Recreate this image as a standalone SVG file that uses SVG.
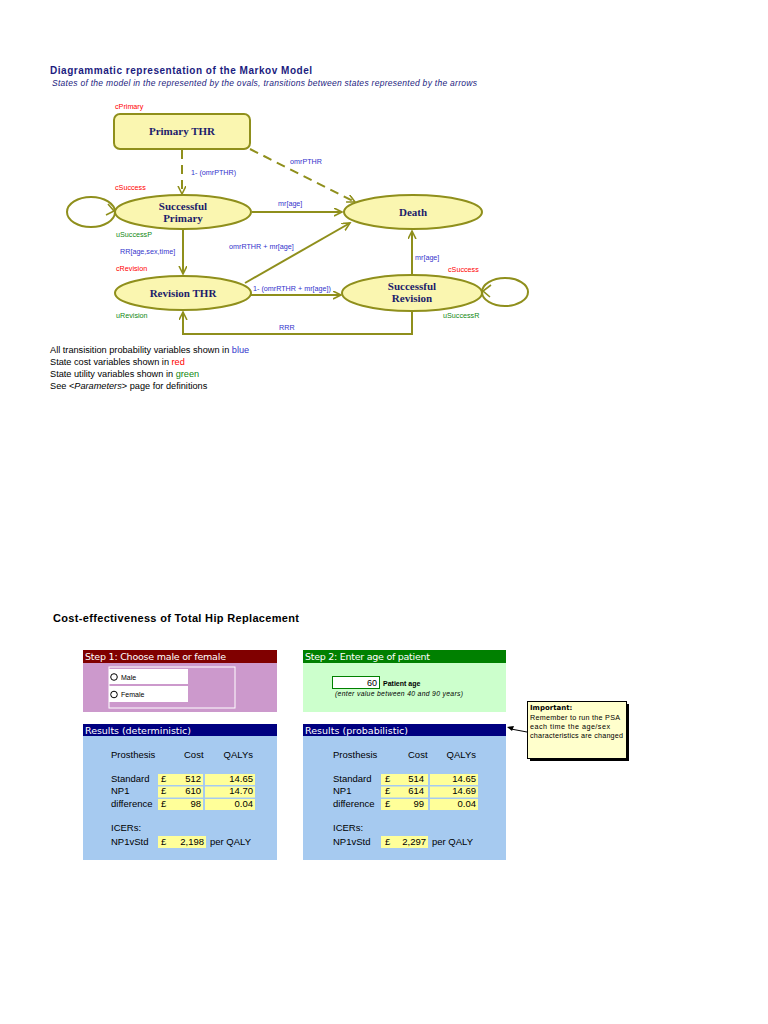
<svg xmlns="http://www.w3.org/2000/svg" width="768" height="1024" viewBox="0 0 768 1024">
<style>
.bg{fill:#ffffff}
.oval{fill:#FAF6B0;stroke:#8F8F1C;stroke-width:2}
.ln{fill:none;stroke:#8F8F1C;stroke-width:2}
.dash{stroke-dasharray:9,6}
.st{font-family:"Liberation Serif",serif;font-weight:bold;font-size:11px;fill:#1C1C6B;text-anchor:middle}
.bl{font-family:"Liberation Sans",Arial,sans-serif;font-size:7.2px;fill:#3333CC}
.rd{font-family:"Liberation Sans",Arial,sans-serif;font-size:7.2px;fill:#FF0000}
.gr{font-family:"Liberation Sans",Arial,sans-serif;font-size:7.2px;fill:#118811}
.lg{font-family:"Liberation Sans",Arial,sans-serif;font-size:9.2px;fill:#000}
.t{font-family:"Liberation Sans",Arial,sans-serif;font-size:9.5px;fill:#000}
.hd{font-family:"DejaVu Sans","Liberation Sans",sans-serif;font-size:9.5px;fill:#fff}
.cell{fill:#FFFF99}
.r{text-anchor:end}
</style>
<defs>
<marker id="ah" markerWidth="10" markerHeight="10" refX="8" refY="4" orient="auto" markerUnits="userSpaceOnUse">
<path d="M0,0 L8,4 L0,8" fill="none" stroke="#8F8F1C" stroke-width="1.6"/>
</marker>
</defs>
<rect class="bg" x="0" y="0" width="768" height="1024"/>

<g id="titles">
<text x="50" y="74" font-family="Liberation Sans,Arial,sans-serif" font-weight="bold" font-size="10" fill="#1C1C80" textLength="262">Diagrammatic representation of the Markov Model</text>
<text x="52" y="85.5" font-family="Liberation Sans,Arial,sans-serif" font-style="italic" font-size="8.5" fill="#1C1C80" textLength="425">States of the model in the represented by the ovals, transitions between states represented by the arrows</text>
</g>

<g id="connectors">
<line class="ln dash" x1="182" y1="150" x2="182" y2="194" marker-end="url(#ah)"/>
<line class="ln dash" x1="250" y1="149" x2="355" y2="202" marker-end="url(#ah)"/>
<line class="ln" x1="252" y1="212" x2="342" y2="212" marker-end="url(#ah)"/>
<line class="ln" x1="183" y1="230" x2="183" y2="274" marker-end="url(#ah)"/>
<line class="ln" x1="245" y1="283" x2="350" y2="223" marker-end="url(#ah)"/>
<line class="ln" x1="250" y1="295" x2="341" y2="295" marker-end="url(#ah)"/>
<line class="ln" x1="412" y1="275" x2="412" y2="231" marker-end="url(#ah)"/>
<path class="ln" d="M412,311 L412,334 L183,334 L183,312" marker-end="url(#ah)"/>
<ellipse class="ln" cx="91" cy="212" rx="24" ry="15"/>
<path d="M108,204 L114,211 L106,215" fill="none" stroke="#8F8F1C" stroke-width="1.6"/>
<ellipse class="ln" cx="505" cy="292" rx="23" ry="14"/>
<path d="M491,285 L483,291 L490,297" fill="none" stroke="#8F8F1C" stroke-width="1.6"/>
</g>

<g id="node-primary">
<rect class="oval" x="114" y="114" width="136" height="35" rx="6"/>
<text class="st" x="182" y="135">Primary THR</text>
</g>
<g id="node-successful-primary">
<ellipse class="oval" cx="183" cy="212" rx="68" ry="17"/>
<text class="st" x="183" y="210">Successful</text>
<text class="st" x="183" y="222">Primary</text>
</g>
<g id="node-death">
<ellipse class="oval" cx="413" cy="212" rx="69" ry="17"/>
<text class="st" x="413" y="216">Death</text>
</g>
<g id="node-revision">
<ellipse class="oval" cx="183" cy="293" rx="68" ry="17"/>
<text class="st" x="183" y="297">Revision THR</text>
</g>
<g id="node-successful-revision">
<ellipse class="oval" cx="412" cy="293" rx="70" ry="18"/>
<text class="st" x="412" y="290">Successful</text>
<text class="st" x="412" y="302">Revision</text>
</g>

<g id="labels">
<text class="rd" x="115" y="109">cPrimary</text>
<text class="bl" x="191" y="175">1- (omrPTHR)</text>
<text class="bl" x="290" y="164">omrPTHR</text>
<text class="rd" x="115" y="190">cSuccess</text>
<text class="bl" x="278" y="206">mr[age]</text>
<text class="gr" x="116" y="237">uSuccessP</text>
<text class="bl" x="120" y="254">RR[age,sex,time]</text>
<text class="bl" x="229" y="249">omrRTHR + mr[age]</text>
<text class="rd" x="116" y="271">cRevision</text>
<text class="bl" x="253" y="291">1- (omrRTHR + mr[age])</text>
<text class="bl" x="415" y="260">mr[age]</text>
<text class="rd" x="448" y="272">cSuccess</text>
<text class="gr" x="116" y="318">uRevision</text>
<text class="gr" x="443" y="318">uSuccessR</text>
<text class="bl" x="279" y="330">RRR</text>
</g>

<g id="legend">
<text class="lg" x="50" y="353">All transisition probability variables shown in <tspan fill="#3333CC">blue</tspan></text>
<text class="lg" x="50" y="365">State cost variables shown in <tspan fill="#FF0000">red</tspan></text>
<text class="lg" x="50" y="377">State utility variables shown in <tspan fill="#118811">green</tspan></text>
<text class="lg" x="50" y="389">See &lt;<tspan font-style="italic">Parameters</tspan>&gt; page for definitions</text>
</g>

<g id="ce-title">
<text x="53" y="622" font-family="Liberation Sans,Arial,sans-serif" font-weight="bold" font-size="11" fill="#000" textLength="246">Cost-effectiveness of Total Hip Replacement</text>
</g>

<g id="step1">
<rect x="83" y="663" width="194" height="49" fill="#CC99CC"/>
<rect x="83" y="650" width="194" height="13" fill="#800000"/>
<text class="hd" x="85" y="660" textLength="141">Step 1: Choose male or female</text>
<rect x="109" y="667" width="126" height="41" fill="none" stroke="#ffffff" stroke-width="1"/>
<rect x="109" y="669" width="79" height="15" fill="#ffffff"/>
<rect x="109" y="686" width="79" height="16" fill="#ffffff"/>
<circle cx="114" cy="677" r="3.3" fill="#fff" stroke="#000" stroke-width="1"/>
<circle cx="114" cy="694.5" r="3.3" fill="#fff" stroke="#000" stroke-width="1"/>
<text x="121" y="679.5" font-family="Liberation Sans,Arial,sans-serif" font-size="7" fill="#000">Male</text>
<text x="121" y="697" font-family="Liberation Sans,Arial,sans-serif" font-size="7" fill="#000">Female</text>
</g>

<g id="step2">
<rect x="303" y="663" width="203" height="49" fill="#CCFFCC"/>
<rect x="303" y="650" width="203" height="13" fill="#008000"/>
<text class="hd" x="305" y="660" textLength="125">Step 2: Enter age of patient</text>
<rect x="332.5" y="676.5" width="47" height="12" fill="#ffffff" stroke="#008000" stroke-width="1"/>
<text x="377" y="686" font-family="Liberation Sans,Arial,sans-serif" font-size="9" fill="#000" text-anchor="end">60</text>
<text x="383" y="686" font-family="Liberation Sans,Arial,sans-serif" font-weight="bold" font-size="7" fill="#000">Patient age</text>
<text x="335" y="696" font-family="Liberation Sans,Arial,sans-serif" font-style="italic" font-size="6.8" fill="#000" textLength="128">(enter value between 40 and 90 years)</text>
</g>

<g id="results-deterministic">
<rect x="83" y="736" width="194" height="124" fill="#A6CAF0"/>
<rect x="83" y="724" width="194" height="12" fill="#000080"/>
<text class="hd" x="85" y="734" textLength="106">Results (deterministic)</text>
<text class="t" x="111" y="758">Prosthesis</text>
<text class="t" x="184" y="758">Cost</text>
<text class="t r" x="253" y="758">QALYs</text>
<rect class="cell" x="158" y="774" width="45" height="11"/>
<rect class="cell" x="205" y="774" width="50" height="11"/>
<rect class="cell" x="158" y="786.5" width="45" height="11"/>
<rect class="cell" x="205" y="786.5" width="50" height="11"/>
<rect class="cell" x="158" y="799" width="45" height="11"/>
<rect class="cell" x="205" y="799" width="50" height="11"/>
<text class="t" x="111" y="782">Standard</text>
<text class="t" x="111" y="794">NP1</text>
<text class="t" x="111" y="806.5">difference</text>
<text class="t" x="161" y="782">£</text>
<text class="t" x="161" y="794">£</text>
<text class="t" x="161" y="806.5">£</text>
<text class="t r" x="201" y="782">512</text>
<text class="t r" x="201" y="794">610</text>
<text class="t r" x="201" y="806.5">98</text>
<text class="t r" x="253" y="782">14.65</text>
<text class="t r" x="253" y="794">14.70</text>
<text class="t r" x="253" y="806.5">0.04</text>
<text class="t" x="111" y="831">ICERs:</text>
<rect class="cell" x="158" y="836" width="48" height="12"/>
<text class="t" x="111" y="845">NP1vStd</text>
<text class="t" x="161" y="845">£</text>
<text class="t r" x="204" y="845">2,198</text>
<text class="t" x="210" y="845">per QALY</text>
</g>

<g id="results-probabilistic">
<rect x="303" y="736" width="203" height="124" fill="#A6CAF0"/>
<rect x="303" y="724" width="203" height="12" fill="#000080"/>
<text class="hd" x="305" y="734" textLength="103">Results (probabilistic)</text>
<text class="t" x="333" y="758">Prosthesis</text>
<text class="t" x="408" y="758">Cost</text>
<text class="t r" x="476" y="758">QALYs</text>
<rect class="cell" x="381" y="774" width="47" height="11"/>
<rect class="cell" x="430" y="774" width="48" height="11"/>
<rect class="cell" x="381" y="786.5" width="47" height="11"/>
<rect class="cell" x="430" y="786.5" width="48" height="11"/>
<rect class="cell" x="381" y="799" width="47" height="11"/>
<rect class="cell" x="430" y="799" width="48" height="11"/>
<text class="t" x="333" y="782">Standard</text>
<text class="t" x="333" y="794">NP1</text>
<text class="t" x="333" y="806.5">difference</text>
<text class="t" x="385" y="782">£</text>
<text class="t" x="385" y="794">£</text>
<text class="t" x="385" y="806.5">£</text>
<text class="t r" x="424" y="782">514</text>
<text class="t r" x="424" y="794">614</text>
<text class="t r" x="424" y="806.5">99</text>
<text class="t r" x="476" y="782">14.65</text>
<text class="t r" x="476" y="794">14.69</text>
<text class="t r" x="476" y="806.5">0.04</text>
<text class="t" x="333" y="831">ICERs:</text>
<rect class="cell" x="381" y="836" width="47" height="12"/>
<text class="t" x="333" y="845">NP1vStd</text>
<text class="t" x="385" y="845">£</text>
<text class="t r" x="426" y="845">2,297</text>
<text class="t" x="432" y="845">per QALY</text>
</g>

<g id="note-important">
<rect x="530" y="704" width="99" height="57" fill="#000"/>
<rect x="527.5" y="701.5" width="99" height="57" fill="#FFFFCC" stroke="#000" stroke-width="1"/>
<line x1="527" y1="732" x2="511" y2="729" stroke="#000" stroke-width="1"/>
<path d="M507,727 L514,726 L512,731 Z" fill="#000"/>
<text x="530" y="710" font-family="DejaVu Sans,Liberation Sans,sans-serif" font-weight="bold" font-size="7" fill="#000">Important:</text>
<text x="530" y="719.5" font-family="Liberation Sans,Arial,sans-serif" font-size="7.2" fill="#000" textLength="90">Remember to run the PSA</text>
<text x="530" y="728.5" font-family="Liberation Sans,Arial,sans-serif" font-size="7.2" fill="#000" textLength="80">each time the age/sex</text>
<text x="530" y="737.5" font-family="Liberation Sans,Arial,sans-serif" font-size="7.2" fill="#000" textLength="93">characteristics are changed</text>
</g>
</svg>
